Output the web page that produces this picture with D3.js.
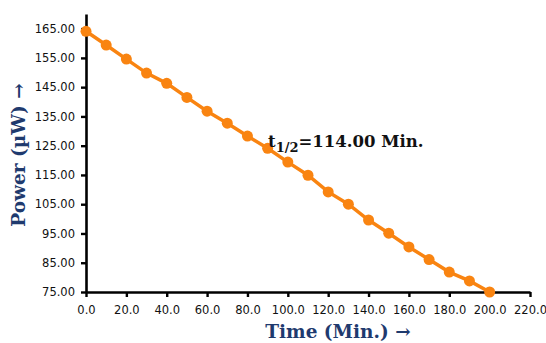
<!DOCTYPE html>
<html>
<head>
<meta charset="utf-8">
<script src="https://cdn.jsdelivr.net/npm/d3@7/dist/d3.min.js"></script>
<style>
  body { margin: 0; background: #fff; }
  svg { display: block; }
</style>
</head>
<body>
<div id="chart"></div>
<script>
// time in minutes, power in µW
const times = [0, 10, 20, 30, 40, 50, 60, 70, 80, 90, 100, 110, 120, 130, 140, 150, 160, 170, 180, 190, 200]
const power = [164.1, 159.4, 154.6, 149.8, 146.3, 141.5, 136.8, 132.7, 128.3, 124.1, 119.4, 114.9, 109.2, 105.0, 99.6, 95.1, 90.4, 86.1, 81.8, 78.8, 75.0]
const xTicks = [0, 20, 40, 60, 80, 100, 120, 140, 160, 180, 200, 220]
const yTicks = [75, 85, 95, 105, 115, 125, 135, 145, 155, 165]

const width = 546, height = 343
const margin = { top: 14, right: 16, bottom: 51, left: 86 }

let svg = d3.select('#chart')
  .append('svg')
  .attr('width', width)
  .attr('height', height)

let x = d3.scaleLinear()
  .domain([0, 220])
  .range([margin.left, width - margin.right])

let y = d3.scaleLinear()
  .domain([75, 170])
  .range([height - margin.bottom, margin.top])

const data = times.map((t, i) => ({ t: t, p: power[i] }))

// axes
let xAxis = svg.append('g')
  .attr('transform', `translate(0,${y(75)})`)
  .call(d3.axisBottom(x).tickValues(xTicks).tickFormat(d3.format('.1f')).tickSizeInner(5).tickSizeOuter(0))

let yAxis = svg.append('g')
  .attr('transform', `translate(${x(0)},0)`)
  .call(d3.axisLeft(y).tickValues(yTicks).tickFormat(d3.format('.2f')).tickSizeInner(5).tickSizeOuter(0))

svg.selectAll('.domain').attr('stroke', '#000').attr('stroke-width', 2.6)
svg.selectAll('.tick line').attr('stroke', '#000').attr('stroke-width', 2.4)
svg.selectAll('.tick text')
  .attr('fill', '#111')
  .style('font-family', 'DejaVu Sans, Verdana, sans-serif')
  .style('font-size', '11.5px')
xAxis.selectAll('.tick text').attr('dy', '1.2em')
yAxis.selectAll('.tick text').attr('x', -11)

// line + markers
let line = d3.line()
  .x(d => x(d.t))
  .y(d => y(d.p))

svg.append('path')
  .datum(data)
  .attr('d', line)
  .attr('fill', 'none')
  .attr('stroke', '#f98411')
  .attr('stroke-width', 3.5)

svg.selectAll('circle.pt')
  .data(data)
  .enter().append('circle')
    .attr('class', 'pt')
    .attr('cx', d => x(d.t))
    .attr('cy', d => y(d.p))
    .attr('r', 5.5)
    .attr('fill', '#f98411')

// half-life annotation
let ann = svg.append('text')
  .attr('x', 268)
  .attr('y', 147)
  .attr('fill', '#111')
  .style('font-family', 'DejaVu Serif, serif')
  .style('font-weight', 'bold')
  .style('font-size', '16.5px')
ann.append('tspan').text('t')
ann.append('tspan').attr('dy', 5).style('font-size', '13px').text('1/2')
ann.append('tspan').attr('dy', -5).text('=114.00 Min.')

// axis titles
svg.append('text')
  .attr('x', 338)
  .attr('y', 338)
  .attr('text-anchor', 'middle')
  .attr('fill', '#1f3a6e')
  .style('font-family', 'DejaVu Serif, serif')
  .style('font-weight', 'bold')
  .style('font-size', '18.5px')
  .text('Time (Min.) →')

svg.append('text')
  .attr('transform', 'translate(25,155) rotate(-90)')
  .attr('text-anchor', 'middle')
  .attr('fill', '#1f3a6e')
  .style('font-family', 'DejaVu Serif, serif')
  .style('font-weight', 'bold')
  .style('font-size', '18.5px')
  .text('Power (µW) →')
</script>
</body>
</html>
